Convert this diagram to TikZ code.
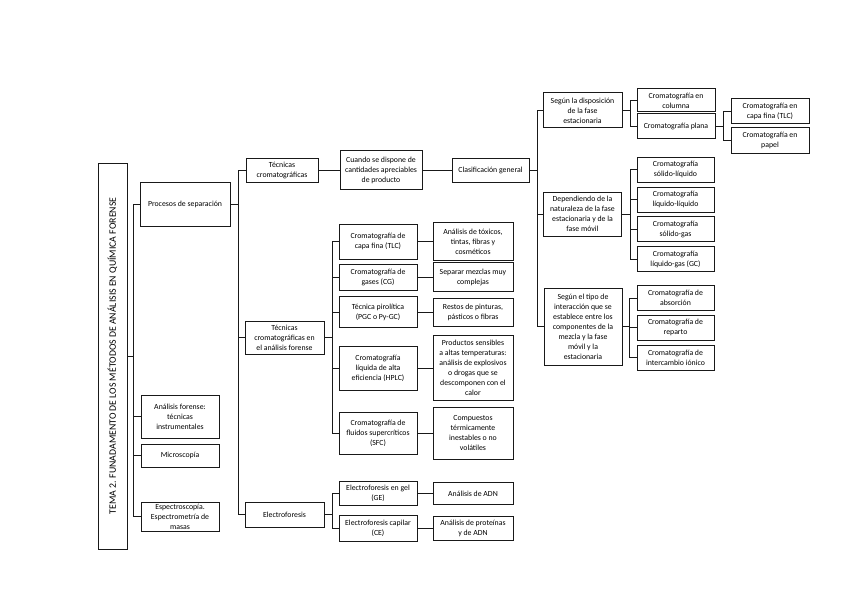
\documentclass[tikz,border=0pt]{standalone}
\usepackage{fontspec}
\setmainfont{Carlito}

\begin{document}
\begin{tikzpicture}[
  x=1pt, y=-1pt,
  every node/.style={font=\fontsize{7.8}{10}\selectfont},
  block/.style={rectangle, draw=black!90, line width=1pt, align=center,
    inner sep=1pt},
  wh/.style 2 args={minimum width=#1pt, minimum height=#2pt},
  link/.style={line width=0.9pt, black!90}
]
  \useasboundingbox (0,0) rectangle (848,599);

  % titulo
  \node[block, wh={386}{29}, rotate=90, font=\fontsize{9.8}{11}\selectfont] (tema) at (112.5,356)
        {TEMA 2. FUNADAMENTO DE LOS MÉTODOS DE ANÁLISIS EN QUÍMICA FORENSE};

  % primer nivel
  \node[block, wh={90}{44}] (procesos) at (185,204) {Procesos de separación};
  \node[block, wh={78}{43}] (analisis) at (180,416.5) {Análisis forense:\\técnicas\\instrumentales};
  \node[block, wh={78}{23}] (micro) at (180,455.5) {Microscopía};
  \node[block, wh={78}{29}] (espectro) at (180,516.5) {Espectroscopía.\\Espectrometría de\\masas};

  % segundo nivel
  \node[block, wh={72}{24}] (tcrom) at (282,170) {Técnicas\\cromatográficas};
  \node[block, wh={79}{33}] (tforense) at (284.5,337.5) {Técnicas\\cromatográficas en\\el análisis forense};
  \node[block, wh={79}{25}] (electro) at (284.5,514.5) {Electroforesis};

  \node[block, wh={82}{39}] (cuando) at (381,170) {Cuando se dispone de\\cantidades apreciables\\de producto};
  \node[block, wh={77}{24}] (clasif) at (490.5,170) {Clasificación general};

  % clasificacion general
  \node[block, wh={79}{35}] (disposicion) at (582.5,110.5) {Según la disposición\\de la fase\\estacionaria};
  \node[block, wh={78}{23}] (columna) at (676,100.5) {Cromatografía en\\columna};
  \node[block, wh={78}{24}] (plana) at (676,126) {Cromatografía plana};
  \node[block, wh={78}{25}] (tlcplana) at (770,111.5) {Cromatografía en\\capa fina (TLC)};
  \node[block, wh={78}{25}] (papel) at (770,140.5) {Cromatografía en\\papel};

  \node[block, wh={78}{44}] (naturaleza) at (582.5,214)
        {Dependiendo de la\\naturaleza de la fase\\estacionaria y de la\\fase móvil};
  \node[block, wh={77}{25}] (solliq) at (675.5,169.5) {Cromatografía\\sólido-líquido};
  \node[block, wh={77}{25}] (liqliq) at (675.5,199.5) {Cromatografía\\líquido-líquido};
  \node[block, wh={77}{25}] (solgas) at (675.5,229) {Cromatografía\\sólido-gas};
  \node[block, wh={77}{25}] (liqgas) at (675.5,259) {Cromatografía\\líquido-gas (GC)};

  \node[block, wh={78}{77}] (interaccion) at (583,326.5)
        {Según el tipo de\\interacción que se\\establece entre los\\componentes de la\\mezcla y la fase\\móvil y la\\estacionaria};
  \node[block, wh={77}{25}] (absorcion) at (675.5,298) {Cromatografía de\\absorción};
  \node[block, wh={77}{25}] (reparto) at (675.5,327.5) {Cromatografía de\\reparto};
  \node[block, wh={77}{25}] (intercambio) at (675.5,357.5) {Cromatografía de\\intercambio iónico};

  % analisis forense
  \node[block, wh={78}{35}] (tlc) at (378,241.5) {Cromatografía de\\capa fina (TLC)};
  \node[block, wh={80}{38}] (toxicos) at (473,241.5) {Análisis de tóxicos,\\tintas, fibras y\\cosméticos};
  \node[block, wh={78}{26}] (gases) at (378,277) {Cromatografía de\\gases (CG)};
  \node[block, wh={80}{29}] (separar) at (473,277) {Separar mezclas muy\\complejas};
  \node[block, wh={78}{31}] (pirolitica) at (378,312) {Técnica pirolítica\\(PGC o Py-GC)};
  \node[block, wh={80}{28}] (restos) at (473,312) {Restos de pinturas,\\pásticos o fibras};
  \node[block, wh={78}{44}] (hplc) at (378,368) {Cromatografía\\líquida de alta\\eficiencia (HPLC)};
  \node[block, wh={80}{65}] (productos) at (473,368)
        {Productos sensibles\\a altas temperaturas:\\análisis de explosivos\\o drogas que se\\descomponen con el\\calor};
  \node[block, wh={78}{42}] (sfc) at (378,433) {Cromatografía de\\fluidos supercríticos\\(SFC)};
  \node[block, wh={80}{52}] (compuestos) at (473,433) {Compuestos\\térmicamente\\inestables o no\\volátiles};

  % electroforesis
  \node[block, wh={78}{24}] (gel) at (378,493.5) {Electroforesis en gel\\(GE)};
  \node[block, wh={80}{22}] (adn) at (473,493.5) {Análisis de ADN};
  \node[block, wh={78}{26}] (capilar) at (378,528.5) {Electroforesis capilar\\(CE)};
  \node[block, wh={80}{24}] (proteinas) at (473,528.5) {Análisis de proteínas\\y de ADN};

  % conectores
  \draw[link] (tema.south) -- ++(6,0) |- (procesos.west);
  \draw[link] (tema.south) -- ++(6,0) |- (analisis.west);
  \draw[link] (tema.south) -- ++(6,0) |- (micro.west);
  \draw[link] (tema.south) -- ++(6,0) |- (espectro.west);

  \draw[link] (procesos.east) -- ++(8,0) |- (tcrom.west);
  \draw[link] (procesos.east) -- ++(8,0) |- (tforense.west);
  \draw[link] (procesos.east) -- ++(8,0) |- (electro.west);

  \draw[link] (tcrom.east) -- (cuando.west);
  \draw[link] (cuando.east) -- (clasif.west);

  \draw[link] (clasif.east) -- ++(8,0) |- (disposicion.west);
  \draw[link] (clasif.east) -- ++(8,0) |- (naturaleza.west);
  \draw[link] (clasif.east) -- ++(8,0) |- (interaccion.west);

  \draw[link] (disposicion.east) -- ++(8,0) |- (columna.west);
  \draw[link] (disposicion.east) -- ++(8,0) |- (plana.west);
  \draw[link] (plana.east) -- ++(8,0) |- (tlcplana.west);
  \draw[link] (plana.east) -- ++(8,0) |- (papel.west);

  \draw[link] (naturaleza.east) -- ++(8,0) |- (solliq.west);
  \draw[link] (naturaleza.east) -- ++(8,0) |- (liqliq.west);
  \draw[link] (naturaleza.east) -- ++(8,0) |- (solgas.west);
  \draw[link] (naturaleza.east) -- ++(8,0) |- (liqgas.west);

  \draw[link] (interaccion.east) -- ++(7,0) |- (absorcion.west);
  \draw[link] (interaccion.east) -- ++(7,0) |- (reparto.west);
  \draw[link] (interaccion.east) -- ++(7,0) |- (intercambio.west);

  \draw[link] (tforense.east) -- ++(8,0) |- (tlc.west);
  \draw[link] (tforense.east) -- ++(8,0) |- (gases.west);
  \draw[link] (tforense.east) -- ++(8,0) |- (pirolitica.west);
  \draw[link] (tforense.east) -- ++(8,0) |- (hplc.west);
  \draw[link] (tforense.east) -- ++(8,0) |- (sfc.west);

  \draw[link] (tlc.east) -- (toxicos.west);
  \draw[link] (gases.east) -- (separar.west);
  \draw[link] (pirolitica.east) -- (restos.west);
  \draw[link] (hplc.east) -- (productos.west);
  \draw[link] (sfc.east) -- (compuestos.west);

  \draw[link] (electro.east) -- ++(8,0) |- (gel.west);
  \draw[link] (electro.east) -- ++(8,0) |- (capilar.west);
  \draw[link] (gel.east) -- (adn.west);
  \draw[link] (capilar.east) -- (proteinas.west);
\end{tikzpicture}
\end{document}
